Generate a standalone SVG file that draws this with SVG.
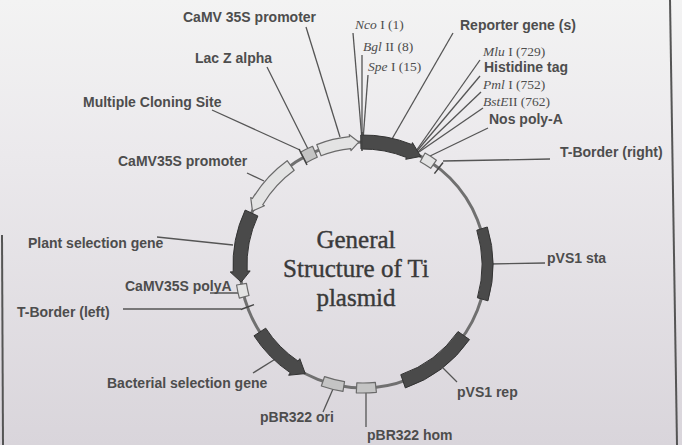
<svg xmlns="http://www.w3.org/2000/svg" width="682" height="445" viewBox="0 0 682 445">
<defs>
<linearGradient id="bg" x1="0" y1="0" x2="0" y2="1">
<stop offset="0" stop-color="#f3f3f3"/>
<stop offset="0.35" stop-color="#ebe9ec"/>
<stop offset="1" stop-color="#d9d5db"/>
</linearGradient>
<style>
.lbl{font-family:"Liberation Sans",Arial,sans-serif;font-weight:bold;font-size:14px;fill:#4d4d4d}
.site{font-family:"Liberation Serif","Times New Roman",serif;font-size:13.5px;fill:#4d4d4d}
.it{font-style:italic}
.title{font-family:"Liberation Serif","Times New Roman",serif;font-size:25px;fill:#3a3a3a;stroke:#3a3a3a;stroke-width:0.4;text-anchor:middle}
.lead{stroke:#555;stroke-width:1.3;fill:none}
.dark{fill:#4a4a4a;stroke:#333;stroke-width:1;stroke-linejoin:round}
.light{fill:#e3e3e3;stroke:#6a6a6a;stroke-width:1.2;stroke-linejoin:round}
.box{fill:#c4c4c4;stroke:#6a6a6a;stroke-width:1.2;stroke-linejoin:round}
.backbone{fill:none;stroke:#707070;stroke-width:3}
.tick{stroke:#444;stroke-width:1.5}
.frame{stroke:#555;stroke-width:2}
</style>
</defs>
<rect x="0" y="0" width="682" height="445" fill="url(#bg)"/>
<line class="frame" x1="670" y1="0" x2="677" y2="445"/>
<line class="frame" x1="2" y1="235" x2="3" y2="445"/>

<g id="backbone">
<circle class="backbone" cx="363" cy="265" r="123"/>
</g>

<g id="connectors">
<line class="lead" x1="306" y1="27" x2="340" y2="137"/>
<line class="lead" x1="267" y1="67" x2="308" y2="149"/>
<line class="lead" x1="212" y1="110" x2="300" y2="150"/>
<line class="lead" x1="353" y1="33" x2="362" y2="140"/>
<line class="lead" x1="362" y1="55" x2="362" y2="140"/>
<line class="lead" x1="368" y1="75" x2="363" y2="140"/>
<line class="lead" x1="453" y1="33" x2="392" y2="139"/>
<line class="lead" x1="480" y1="60" x2="416" y2="151"/>
<line class="lead" x1="480" y1="76" x2="417" y2="151"/>
<line class="lead" x1="481" y1="92" x2="418" y2="152"/>
<line class="lead" x1="483" y1="108" x2="419" y2="152"/>
<line class="lead" x1="488" y1="128" x2="428" y2="157"/>
<line class="lead" x1="443" y1="161" x2="550" y2="159"/>
<line class="lead" x1="247" y1="173" x2="264" y2="181"/>
<line class="lead" x1="157" y1="237" x2="233" y2="245"/>
<polyline class="lead" points="210,293 238,293 241,291"/>
<line class="lead" x1="123" y1="309" x2="241" y2="309"/>
<line class="lead" x1="253" y1="373" x2="277" y2="358"/>
<line class="lead" x1="323" y1="412" x2="333" y2="389"/>
<line class="lead" x1="366" y1="427" x2="366" y2="392"/>
<line class="lead" x1="457" y1="382" x2="443" y2="368"/>
<line class="lead" x1="488" y1="264" x2="545" y2="263"/>
</g>

<g id="title">
<text class="title" x="356" y="248">General</text>
<text class="title" x="356" y="277">Structure of Ti</text>
<text class="title" x="356" y="306">plasmid</text>
</g>

<g id="camv35s-promoter-top">
<path class="light" d="M 316.77 144.57 A 129 129 0 0 1 349.52 136.71 L 349.31 134.72 L 358.71 142.07 L 350.98 150.63 L 350.77 148.64 A 117 117 0 0 0 321.07 155.77 Z"/>
<text class="lbl" x="183" y="22">CaMV 35S promoter</text>
</g>

<g id="lac-z-alpha">
<text class="lbl" x="195" y="63">Lac Z alpha</text>
</g>

<g id="multiple-cloning-site">
<path class="box" d="M 300.46 152.18 A 129 129 0 0 1 312.60 146.26 L 317.29 157.30 A 117 117 0 0 0 306.28 162.67 Z"/>
<line class="tick" x1="299" y1="149" x2="307" y2="165"/>
<text class="lbl" x="83" y="107">Multiple Cloning Site</text>
</g>

<g id="restriction-sites">
<text class="site" x="355" y="29"><tspan class="it">Nco</tspan> I (1)</text>
<text class="site" x="363" y="51"><tspan class="it">Bgl</tspan> II (8)</text>
<text class="site" x="368" y="71"><tspan class="it">Spe</tspan> I (15)</text>
<text class="site" x="483" y="56"><tspan class="it">Mlu</tspan> I (729)</text>
<text class="site" x="483" y="89"><tspan class="it">Pml</tspan> I (752)</text>
<text class="site" x="483" y="106"><tspan class="it">BstE</tspan>II (762)</text>
</g>

<g id="reporter-gene">
<path class="dark" d="M 360.73 135.02 A 130 130 0 0 1 411.70 144.46 L 412.45 142.61 L 420.75 156.40 L 405.70 159.30 L 406.45 157.44 A 116 116 0 0 0 360.98 149.02 Z"/>
<line class="tick" x1="362" y1="132" x2="362" y2="151"/>
<text class="lbl" x="460" y="30">Reporter gene (s)</text>
</g>

<g id="histidine-tag">
<text class="lbl" x="484" y="72">Histidine tag</text>
</g>

<g id="nos-poly-a">
<path class="light" d="M 425.05 153.05 A 128 128 0 0 1 436.42 160.14 L 430.68 168.34 A 118 118 0 0 0 420.21 161.80 Z"/>
<text class="lbl" x="489" y="124">Nos poly-A</text>
</g>

<g id="t-border-right">
<line class="tick" x1="434.42" y1="173.59" x2="443.04" y2="162.56"/>
<text class="lbl" x="560" y="157">T-Border (right)</text>
</g>

<g id="camv35s-promoter-left">
<path class="light" d="M 287.17 160.64 A 129 129 0 0 0 252.42 198.56 L 250.71 197.53 L 252.45 211.08 L 264.42 205.77 L 262.71 204.74 A 117 117 0 0 1 294.23 170.34 Z"/>
<text class="lbl" x="118" y="166">CaMV35S promoter</text>
</g>

<g id="plant-selection-gene">
<path class="dark" d="M 245.18 210.06 A 130 130 0 0 0 233.18 271.80 L 230.18 271.96 L 241.19 282.12 L 250.16 270.91 L 247.16 271.07 A 116 116 0 0 1 257.87 215.98 Z"/>
<text class="lbl" x="28" y="248">Plant selection gene</text>
</g>

<g id="camv35s-polya">
<path class="light" d="M 236.57 285.02 A 128 128 0 0 0 239.36 298.13 L 249.02 295.54 A 118 118 0 0 1 246.45 283.46 Z"/>
<text class="lbl" x="125" y="291">CaMV35S polyA</text>
</g>

<g id="t-border-left">
<line class="tick" x1="240.84" y1="309.46" x2="253.99" y2="304.67"/>
<text class="lbl" x="17" y="317">T-Border (left)</text>
</g>

<g id="bacterial-selection-gene">
<path class="dark" d="M 253.97 335.80 A 130 130 0 0 0 290.30 372.77 L 288.63 375.26 L 305.25 373.60 L 299.81 358.68 L 298.13 361.16 A 116 116 0 0 1 265.71 328.17 Z"/>
<text class="lbl" x="107" y="388">Bacterial selection gene</text>
</g>

<g id="pbr322-ori">
<path class="box" d="M 321.33 386.02 A 128 128 0 0 0 342.98 391.43 L 344.54 381.55 A 118 118 0 0 1 324.58 376.57 Z"/>
<text class="lbl" x="260" y="422">pBR322 ori</text>
</g>

<g id="pbr322-hom">
<path class="box" d="M 356.30 392.82 A 128 128 0 0 0 376.38 392.30 L 375.33 382.35 A 118 118 0 0 1 356.83 382.84 Z"/>
<text class="lbl" x="367" y="440">pBR322 hom</text>
</g>

<g id="pvs1-rep">
<path class="dark" d="M 405.33 387.92 A 130 130 0 0 0 469.50 339.57 L 458.03 331.54 A 116 116 0 0 1 400.77 374.68 Z"/>
<text class="lbl" x="457" y="397">pVS1 rep</text>
</g>

<g id="pvs1-sta">
<path class="dark" d="M 487.32 226.99 A 130 130 0 0 1 487.97 300.83 L 477.39 297.80 A 119 119 0 0 0 476.80 230.20 Z"/>
<text class="lbl" x="547" y="263">pVS1 sta</text>
</g>
</svg>
